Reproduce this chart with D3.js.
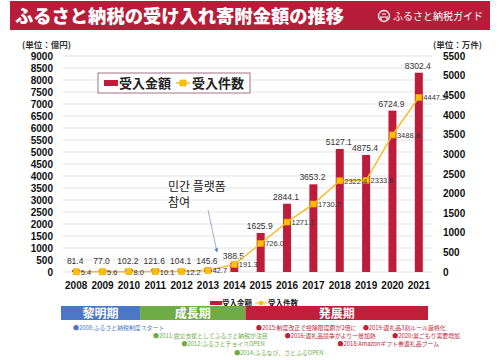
<!DOCTYPE html>
<html><head><meta charset="utf-8">
<script src="https://cdn.jsdelivr.net/npm/d3@7"></script>
<style>
html,body{margin:0;padding:0;background:#fff;}
svg{display:block;}
</style></head>
<body>
<svg id="chart" width="499" height="360"></svg>
<script>
const years = ["2008","2009","2010","2011","2012","2013","2014","2015","2016","2017","2018","2019","2020","2021"];
const amounts = [81.4,77.0,102.2,121.6,104.1,145.6,388.5,1625.9,2844.1,3653.2,5127.1,4875.4,6724.9,8302.4];
const counts = [5.4,5.6,8.0,10.1,12.2,42.7,191.3,726.0,1271.1,1730.2,2322.4,2333.6,3488.8,4447.3];
const leftTicks = [0,500,1000,1500,2000,2500,3000,3500,4000,4500,5000,5500,6000,6500,7000,7500,8000,8500,9000];
const rightTicks = [0,500,1000,1500,2000,2500,3000,3500,4000,4500,5000,5500];
const periods = [
  {name:"黎明期", from:"2008", to:"2010", color:"#4a78c6"},
  {name:"成長期", from:"2011", to:"2014", color:"#6fac46"},
  {name:"発展期", from:"2015", to:"2021", color:"#c01f3a"}
];
const notes = [
  {text:"●2008:ふるさと納税制度スタート", year:"2008", row:0, color:"#4a78c6", dx:10},
  {text:"●2011:震災支援としてふるさと納税が注目", year:"2011", row:1, color:"#6fac46", dx:11},
  {text:"●2012:ふるさとチョイスOPEN", year:"2012", row:2, color:"#6fac46", dx:13},
  {text:"●2014:ふるなび、さとふるOPEN", year:"2014", row:3, color:"#6fac46", dx:13},
  {text:"●2015:制度改正で控除限度額が2倍に", year:"2015", row:0, color:"#c01f3a", dx:8.5},
  {text:"●2016:返礼品競争がより一層加熱", year:"2016", row:1, color:"#c01f3a", dx:11},
  {text:"●2018:Amazonギフト券返礼品ブーム", year:"2018", row:2, color:"#c01f3a", dx:11},
  {text:"●2019:返礼品3割ルール厳格化", year:"2019", row:0, color:"#c01f3a", dx:10},
  {text:"●2020:巣ごもり需要増加", year:"2020", row:1, color:"#c01f3a", dx:13}
];

const svg = d3.select("#chart");
const JP = "'Noto Sans CJK JP','Noto Sans',sans-serif";
const NUM = "'Liberation Sans','DejaVu Sans',sans-serif";
const RED = "#bd1d3b";

const m = {left:63, right:432, top:56, bottom:272};
const x = d3.scaleBand().domain(years).range([m.left, m.right]).padding(0);
const yL = d3.scaleLinear().domain([0,9000]).range([m.bottom, m.top]);
const yR = d3.scaleLinear().domain([0,5500]).range([m.bottom, m.top]);

// Title bar
svg.append("rect").attr("x",10).attr("y",1).attr("width",480).attr("height",29).attr("fill","#b71c38");
svg.append("text").attr("x",15).attr("y",23).attr("fill","#fff")
  .style("font-family",JP).style("font-weight","900").style("font-size","18.3px")
  .text("ふるさと納税の受け入れ寄附金額の推移");
// logo
const lg = svg.append("g").attr("transform","translate(384,16)");
lg.append("circle").attr("r",5.5).attr("fill","none").attr("stroke","#fff").attr("stroke-width",1.3);
lg.append("path").attr("d","M-4,1 L4,1 M-3,1 L-3,4 M3,1 L3,4 M-2,-2 L2,-2").attr("stroke","#fff").attr("stroke-width",1.2).attr("fill","none");
svg.append("text").attr("x",393).attr("y",20).attr("fill","#fff")
  .style("font-family",JP).style("font-size","10px").text("ふるさと納税ガイド");

// unit labels
svg.append("text").attr("x",22).attr("y",48).style("font-family",JP).style("font-size","8.5px").style("font-weight","bold").attr("fill","#333").text("(単位：億円)");
svg.append("text").attr("x",433).attr("y",48).style("font-family",JP).style("font-size","8.5px").style("font-weight","bold").attr("fill","#333").text("(単位：万件)");

// gridlines
svg.append("g").selectAll("line").data(leftTicks).join("line")
  .attr("x1",m.left).attr("x2",m.right).attr("y1",d=>yL(d)).attr("y2",d=>yL(d))
  .attr("stroke","#e3e3e3").attr("stroke-width",1);

// Left axis
const axL = svg.append("g").attr("transform",`translate(${m.left-8},0)`)
  .call(d3.axisLeft(yL).tickValues(leftTicks).tickFormat(d3.format("d")).tickSize(0).tickPadding(2));
axL.select(".domain").remove();
axL.selectAll("text").style("font-family",NUM).style("font-weight","bold").style("font-size","10px").attr("fill","#111");

// Right axis
const axR = svg.append("g").attr("transform",`translate(${m.right+9},0)`)
  .call(d3.axisRight(yR).tickValues(rightTicks).tickFormat(d3.format("d")).tickSize(0).tickPadding(2));
axR.select(".domain").remove();
axR.selectAll("text").style("font-family",NUM).style("font-weight","bold").style("font-size","10px").attr("fill","#111");

// X axis
const axX = svg.append("g").attr("transform",`translate(0,${m.bottom+8})`)
  .call(d3.axisBottom(x).tickSize(0).tickPadding(2));
axX.select(".domain").remove();
axX.selectAll("text").style("font-family",NUM).style("font-weight","bold").style("font-size","10px").attr("fill","#111");

// bars
const bw = 8;
svg.append("g").selectAll("rect").data(years).join("rect")
  .attr("x",(d)=>x(d)+x.bandwidth()/2-bw/2)
  .attr("y",(d,i)=>yL(amounts[i]))
  .attr("width",bw)
  .attr("height",(d,i)=>m.bottom-yL(amounts[i]))
  .attr("fill",RED);

// bar labels
svg.append("g").selectAll("text").data(years).join("text")
  .attr("x",d=>x(d)+x.bandwidth()/2-1)
  .attr("y",(d,i)=>Math.min(yL(amounts[i]),268)-4)
  .attr("text-anchor","middle")
  .style("font-family",NUM).style("font-size","8.5px").attr("fill","#333")
  .text((d,i)=>amounts[i].toFixed(1));

// line
const line = d3.line().x(d=>x(d.y)+x.bandwidth()/2).y(d=>yR(d.v));
const pts = years.map((y,i)=>({y, v:counts[i]}));
svg.append("path").datum(pts).attr("d",line).attr("fill","none").attr("stroke","#f5bd2c").attr("stroke-width",1.5);
svg.append("g").selectAll("rect").data(pts).join("rect")
  .attr("x",d=>x(d.y)+x.bandwidth()/2-3).attr("y",d=>yR(d.v)-3)
  .attr("width",6).attr("height",6).attr("fill","#ffc000").attr("stroke","#e8a200").attr("stroke-width",0.6);
svg.append("g").selectAll("text").data(pts).join("text")
  .attr("x",d=>x(d.y)+x.bandwidth()/2+4.5).attr("y",d=>yR(d.v)+3)
  .style("font-family",NUM).style("font-size","7.5px").attr("fill","#333")
  .text(d=>d.v.toFixed(1));

// legend box
const leg = svg.append("g");
leg.append("rect").attr("x",98).attr("y",73).attr("width",152).attr("height",20).attr("fill","#fff").attr("stroke","#a07282").attr("stroke-width",1);
leg.append("rect").attr("x",104).attr("y",80).attr("width",14).attr("height",6).attr("fill",RED);
leg.append("text").attr("x",119).attr("y",88).style("font-family",JP).style("font-weight","bold").style("font-size","13px").attr("fill","#222").text("受入金額");
leg.append("line").attr("x1",176).attr("x2",190).attr("y1",83).attr("y2",83).attr("stroke","#f5bd2c").attr("stroke-width",1.5);
leg.append("rect").attr("x",180).attr("y",80).attr("width",6).attr("height",6).attr("fill","#ffc000").attr("stroke","#e8a200").attr("stroke-width",0.6);
leg.append("text").attr("x",192).attr("y",88).style("font-family",JP).style("font-weight","bold").style("font-size","13px").attr("fill","#222").text("受入件数");

// annotation
svg.append("text").attr("x",168).attr("y",191).style("font-family","'Noto Sans CJK KR',sans-serif").style("font-size","12px").attr("fill","#222").text("민간 플랫폼");
svg.append("text").attr("x",168).attr("y",207).style("font-family","'Noto Sans CJK KR',sans-serif").style("font-size","12px").attr("fill","#222").text("참여");
svg.append("defs").append("marker").attr("id","ah").attr("viewBox","0 0 10 10").attr("refX",9).attr("refY",5)
  .attr("markerWidth",5).attr("markerHeight",5).attr("orient","auto")
  .append("path").attr("d","M0,0 L10,5 L0,10 z").attr("fill","#5b7fb8");
svg.append("line").attr("x1",208).attr("y1",210).attr("x2",217).attr("y2",252)
  .attr("stroke","#7f9cc8").attr("stroke-width",0.8).attr("marker-end","url(#ah)");

// bottom legend
const bl = svg.append("g");
bl.append("rect").attr("x",210).attr("y",301).attr("width",12).attr("height",4).attr("fill",RED);
bl.append("text").attr("x",222).attr("y",306).style("font-family",JP).style("font-weight","bold").style("font-size","7.5px").attr("fill","#222").text("受入金額");
bl.append("line").attr("x1",255).attr("x2",267).attr("y1",303).attr("y2",303).attr("stroke","#f5bd2c").attr("stroke-width",1);
bl.append("rect").attr("x",259).attr("y",301).attr("width",4).attr("height",4).attr("fill","#ffc000");
bl.append("text").attr("x",268).attr("y",306).style("font-family",JP).style("font-weight","bold").style("font-size","7.5px").attr("fill","#222").text("受入件数");

// period bar
const pg = svg.append("g");
periods.forEach(p=>{
  const x0 = x(p.from)-2, x1 = x(p.to)+x.bandwidth()-(p.to==="2021"?4:2);
  pg.append("rect").attr("x",x0).attr("y",306).attr("width",x1-x0).attr("height",14).attr("fill",p.color);
  pg.append("text").attr("x",(x0+x1)/2).attr("y",317.5).attr("text-anchor","middle")
    .style("font-family",JP).style("font-weight","bold").style("font-size","12px").attr("fill","#fff").text(p.name);
});

// notes
const rowY = [330,338,346,355];
svg.append("g").selectAll("text").data(notes).join("text")
  .attr("x",d=>x(d.year)+d.dx).attr("y",d=>rowY[d.row])
  .style("font-family",JP).style("font-size","5.9px").attr("fill",d=>d.color)
  .text(d=>d.text);
</script>
</body></html>
